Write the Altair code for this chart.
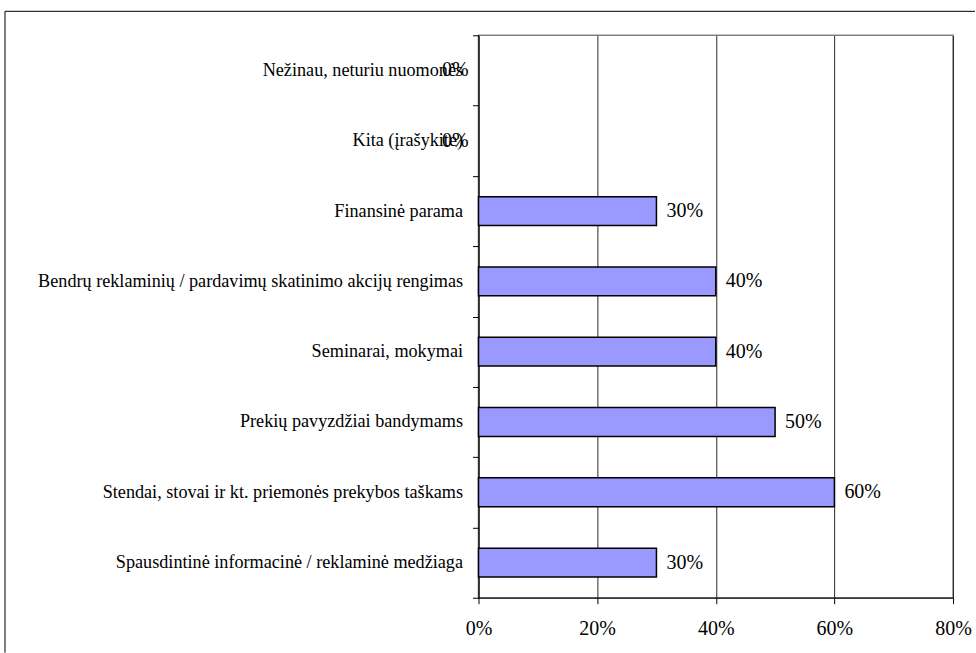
import altair as alt
import pandas as pd

categories = [
    "Nežinau, neturiu nuomonės",
    "Kita (įrašykite)",
    "Finansinė parama",
    "Bendrų reklaminių / pardavimų skatinimo akcijų rengimas",
    "Seminarai, mokymai",
    "Prekių pavyzdžiai bandymams",
    "Stendai, stovai ir kt. priemonės prekybos taškams",
    "Spausdintinė informacinė / reklaminė medžiaga",
]
values = [0.0, 0.0, 0.30, 0.40, 0.40, 0.50, 0.60, 0.30]
x_ticks = [0, 0.2, 0.4, 0.6, 0.8]

df = pd.DataFrame({"cat": categories, "val": values})

FONT = "Liberation Serif"

y_enc = alt.Y(
    "cat:N",
    sort=categories,
    title=None,
    scale=alt.Scale(paddingInner=0, paddingOuter=0),
    axis=alt.Axis(
        tickBand="extent",
        tickSize=6,
        tickColor="black",
        domainColor="black",
        labelPadding=10,
        labelFont=FONT,
        labelFontSize=18.2,
        labelColor="black",
        labelLimit=0,
        grid=False,
    ),
)
x_enc = alt.X(
    "val:Q",
    title=None,
    scale=alt.Scale(domain=[0, 0.8], nice=False),
    axis=alt.Axis(
        values=x_ticks,
        format=".0%",
        tickSize=6,
        tickColor="black",
        domainColor="black",
        labelPadding=15,
        labelFont=FONT,
        labelFontSize=20,
        labelColor="black",
        grid=True,
        gridColor="#2a2a2a",
        labelFlush=False,
    ),
)

base = alt.Chart(df)

bars = base.transform_filter("datum.val > 0").mark_bar(
    height={"band": 0.41}, color="#9999FF", stroke="black", strokeWidth=1.5
).encode(x=x_enc, y=y_enc)

labels_pos = base.transform_filter("datum.val > 0").mark_text(
    align="left", baseline="middle", dx=10, font=FONT, fontSize=20, color="black"
).encode(x="val:Q", y=alt.Y("cat:N", sort=categories), text=alt.Text("val:Q", format=".0%"))

labels_zero = base.transform_filter("datum.val == 0").mark_text(
    align="right", baseline="middle", dx=-10, font=FONT, fontSize=20, color="black"
).encode(x="val:Q", y=alt.Y("cat:N", sort=categories), text=alt.Text("val:Q", format=".0%"))

frame_src = alt.Data(values=[{"k": 1}])
frame_left = alt.Chart(frame_src).mark_rule(color="black", strokeWidth=1).encode(
    x=alt.value(-474), y=alt.value(-24), y2=alt.value(618)
)
frame_top = alt.Chart(frame_src).mark_rule(color="black", strokeWidth=1).encode(
    x=alt.value(-474), x2=alt.value(497), y=alt.value(-24)
)

chart = alt.layer(bars, labels_pos, labels_zero, frame_left, frame_top).properties(
    width=475,
    height=563,
    padding={"left": 4, "top": 10, "right": 0, "bottom": 0},
    background="white",
).configure_view(stroke="#808080", strokeWidth=1.5)

chart.save("out.html", embed_options={"renderer": "svg", "actions": False})
